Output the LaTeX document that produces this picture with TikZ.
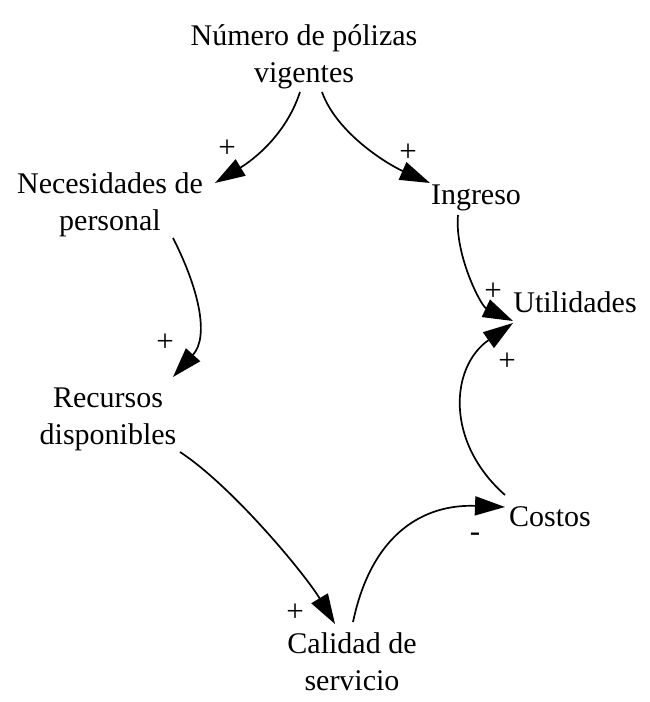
\documentclass[tikz,border=0pt]{standalone}
\usepackage{fontspec}
\setmainfont{Liberation Serif}
\usetikzlibrary{arrows.meta}
\begin{document}
\begin{tikzpicture}[x=1pt,y=1pt,
  var/.style={align=center,inner sep=0pt,font=\fontsize{30}{37}\selectfont},
  sgn/.style={inner sep=0pt,font=\fontsize{31}{33}\selectfont},
  link/.style={line width=1.7pt,-{Triangle[length=30pt,width=19pt]}}]
\useasboundingbox[fill=white] (0,0) rectangle (650,702);
\node[var] (num) at (304,645) {Número de pólizas\\vigentes};
\node[var] (nec) at (110,497) {Necesidades de\\personal};
\node[var] (ing) at (476,504.5) {Ingreso};
\node[var] (uti) at (575,400) {Utilidades};
\node[var] (rec) at (108,283) {Recursos\\disponibles};
\node[var] (cos) at (550,185) {Costos};
\node[var] (cal) at (352,40) {Calidad de\\servicio};
% connectors
\draw[link] ([shift={(-4,-35)}]num.center) .. controls (286,567) and (253,542) .. ([shift={(105,22)}]nec.center);
\draw[link] ([shift={(18,-35)}]num.center) .. controls (337,568) and (389,537) .. ([shift={(-46,14.5)}]ing.center);
\draw[link] ([shift={(-18,-17.5)}]ing.center) .. controls (454.5,447) and (481,396) .. ([shift={(-62,-19)}]uti.center);
\draw[link] ([shift={(-45,22)}]cos.center) .. controls (445,260) and (450,335) .. ([shift={(-62,-21)}]uti.center);
\draw[link] ([shift={(63,-33)}]nec.center) .. controls (198,415) and (210,366) .. ([shift={(65,42)}]rec.center);
\draw[link] ([shift={(72,-33)}]rec.center) .. controls (232,216) and (305,128) .. ([shift={(-17,38)}]cal.center);
\draw[link] ([shift={(1,40)}]cal.center) .. controls (372,170) and (425,198) .. ([shift={(-45,10)}]cos.center);
% polarity signs
\node[sgn] (p1) at (227,553) {+};
\node[sgn] (p2) at (408,549) {+};
\node[sgn] (p3) at (493,410) {+};
\node[sgn] (p4) at (507,340) {+};
\node[sgn] (p5) at (165,359) {+};
\node[sgn] (p6) at (295,89) {+};
\node[sgn] (m7) at (475,165) {-};
\end{tikzpicture}
\end{document}
